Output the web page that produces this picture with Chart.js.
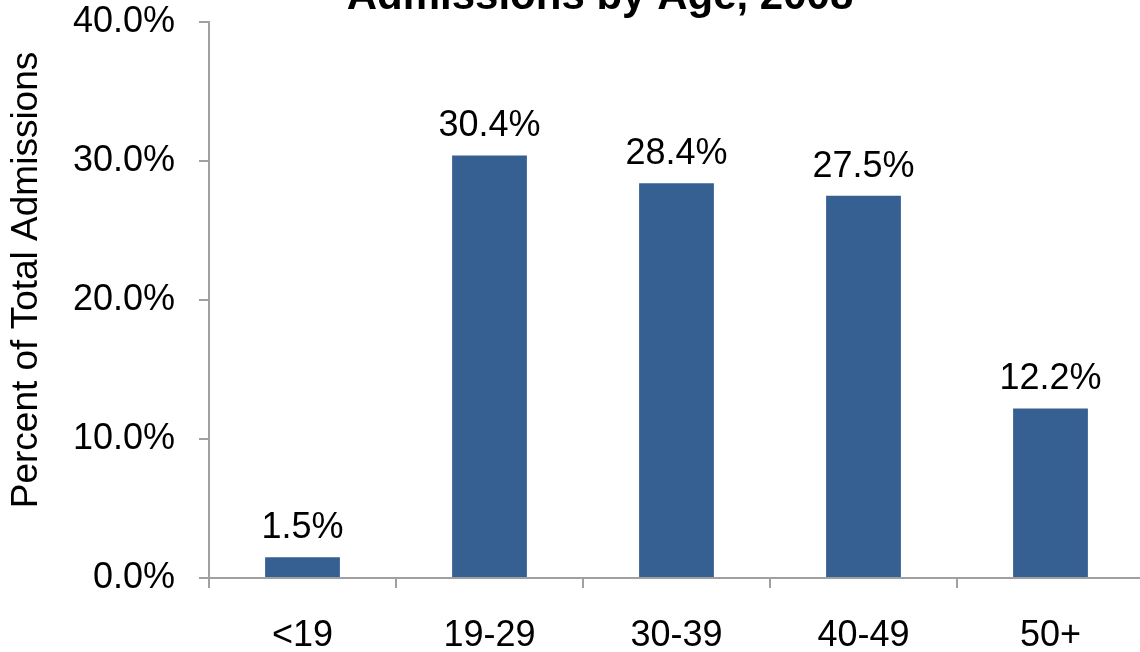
<!DOCTYPE html>
<html>
<head>
<meta charset="utf-8">
<script src="https://cdn.jsdelivr.net/npm/chart.js@4/dist/chart.umd.min.js"></script>
<style>
  html, body { margin: 0; padding: 0; background: #fff; overflow: hidden; }
  #wrap { position: relative; width: 1144px; height: 652px; }
  #ageChart { display: block; }
</style>
</head>
<body>
<div id="wrap"><canvas id="ageChart" width="1144" height="652"></canvas></div>
<script>
// Share of admissions per age group
const ageGroups = ['<19', '19-29', '30-39', '40-49', '50+'];
const admissionShare = [1.5, 30.4, 28.4, 27.5, 12.2];
const yTicks = [0, 10, 20, 30, 40];

const chartTitle = 'Admissions by Age, 2008';
const yTitle = 'Percent of Total Admissions';

const FONT = 'Arial, "Liberation Sans", sans-serif';
const AXIS_GREY = '#a0a0a0';

// value labels above bars, plus the rotated y title and the top title
const textPlugin = {
  id: 'textPlugin',
  afterDatasetsDraw(chart) {
    const ctx = chart.ctx;
    const meta = chart.getDatasetMeta(0);
    ctx.save();
    ctx.fillStyle = '#000';
    ctx.font = '36px ' + FONT;
    ctx.textAlign = 'center';
    ctx.textBaseline = 'alphabetic';
    meta.data.forEach((bar, i) => {
      ctx.fillText(admissionShare[i].toFixed(1) + '%', bar.x, bar.y - 19);
    });

    // y axis title
    ctx.save();
    ctx.translate(27, 280);
    ctx.rotate(-Math.PI / 2);
    ctx.textBaseline = 'middle';
    ctx.font = '37px ' + FONT;
    ctx.fillText(yTitle, 0, 0);
    ctx.restore();

    // chart title, sitting mostly above the top edge
    ctx.font = 'bold 42px ' + FONT;
    ctx.fillText(chartTitle, 600, 9);
    ctx.restore();
  }
};

const ctx = document.getElementById('ageChart').getContext('2d');
const ageChart = new Chart(ctx, {
  type: 'bar',
  data: {
    labels: ageGroups,
    datasets: [{
      data: admissionShare,
      backgroundColor: '#376092',
      borderWidth: 0,
      barPercentage: 0.8,
      categoryPercentage: 0.5
    }]
  },
  options: {
    responsive: false,
    animation: false,
    devicePixelRatio: 1,
    layout: { padding: { top: 22, left: 0, right: 0, bottom: 0 } },
    plugins: {
      legend: { display: false },
      tooltip: { enabled: false },
      title: { display: false }
    },
    scales: {
      x: {
        offset: true,
        grid: {
          offset: true,
          drawOnChartArea: false,
          drawTicks: true,
          tickLength: 10,
          color: AXIS_GREY,
          lineWidth: 2
        },
        border: { color: AXIS_GREY, width: 2 },
        ticks: {
          color: '#000',
          font: { family: FONT, size: 36 },
          padding: 26,
          maxRotation: 0
        },
        afterFit(scale) {
          scale.height = 74;
          scale.paddingLeft = 0;
          scale.paddingRight = 0;
        }
      },
      y: {
        min: 0,
        max: 40,
        afterBuildTicks(scale) {
          scale.ticks = yTicks.map(v => ({ value: v }));
        },
        grid: {
          drawOnChartArea: false,
          drawTicks: true,
          tickLength: 10,
          color: AXIS_GREY,
          lineWidth: 2
        },
        border: { color: AXIS_GREY, width: 2 },
        ticks: {
          color: '#000',
          font: { family: FONT, size: 36 },
          padding: 24,
          callback: v => v.toFixed(1) + '%'
        },
        afterFit(scale) {
          scale.width = 209;
          scale.paddingTop = 0;
          scale.paddingBottom = 0;
        }
      }
    }
  },
  plugins: [textPlugin]
});
</script>
</body>
</html>
